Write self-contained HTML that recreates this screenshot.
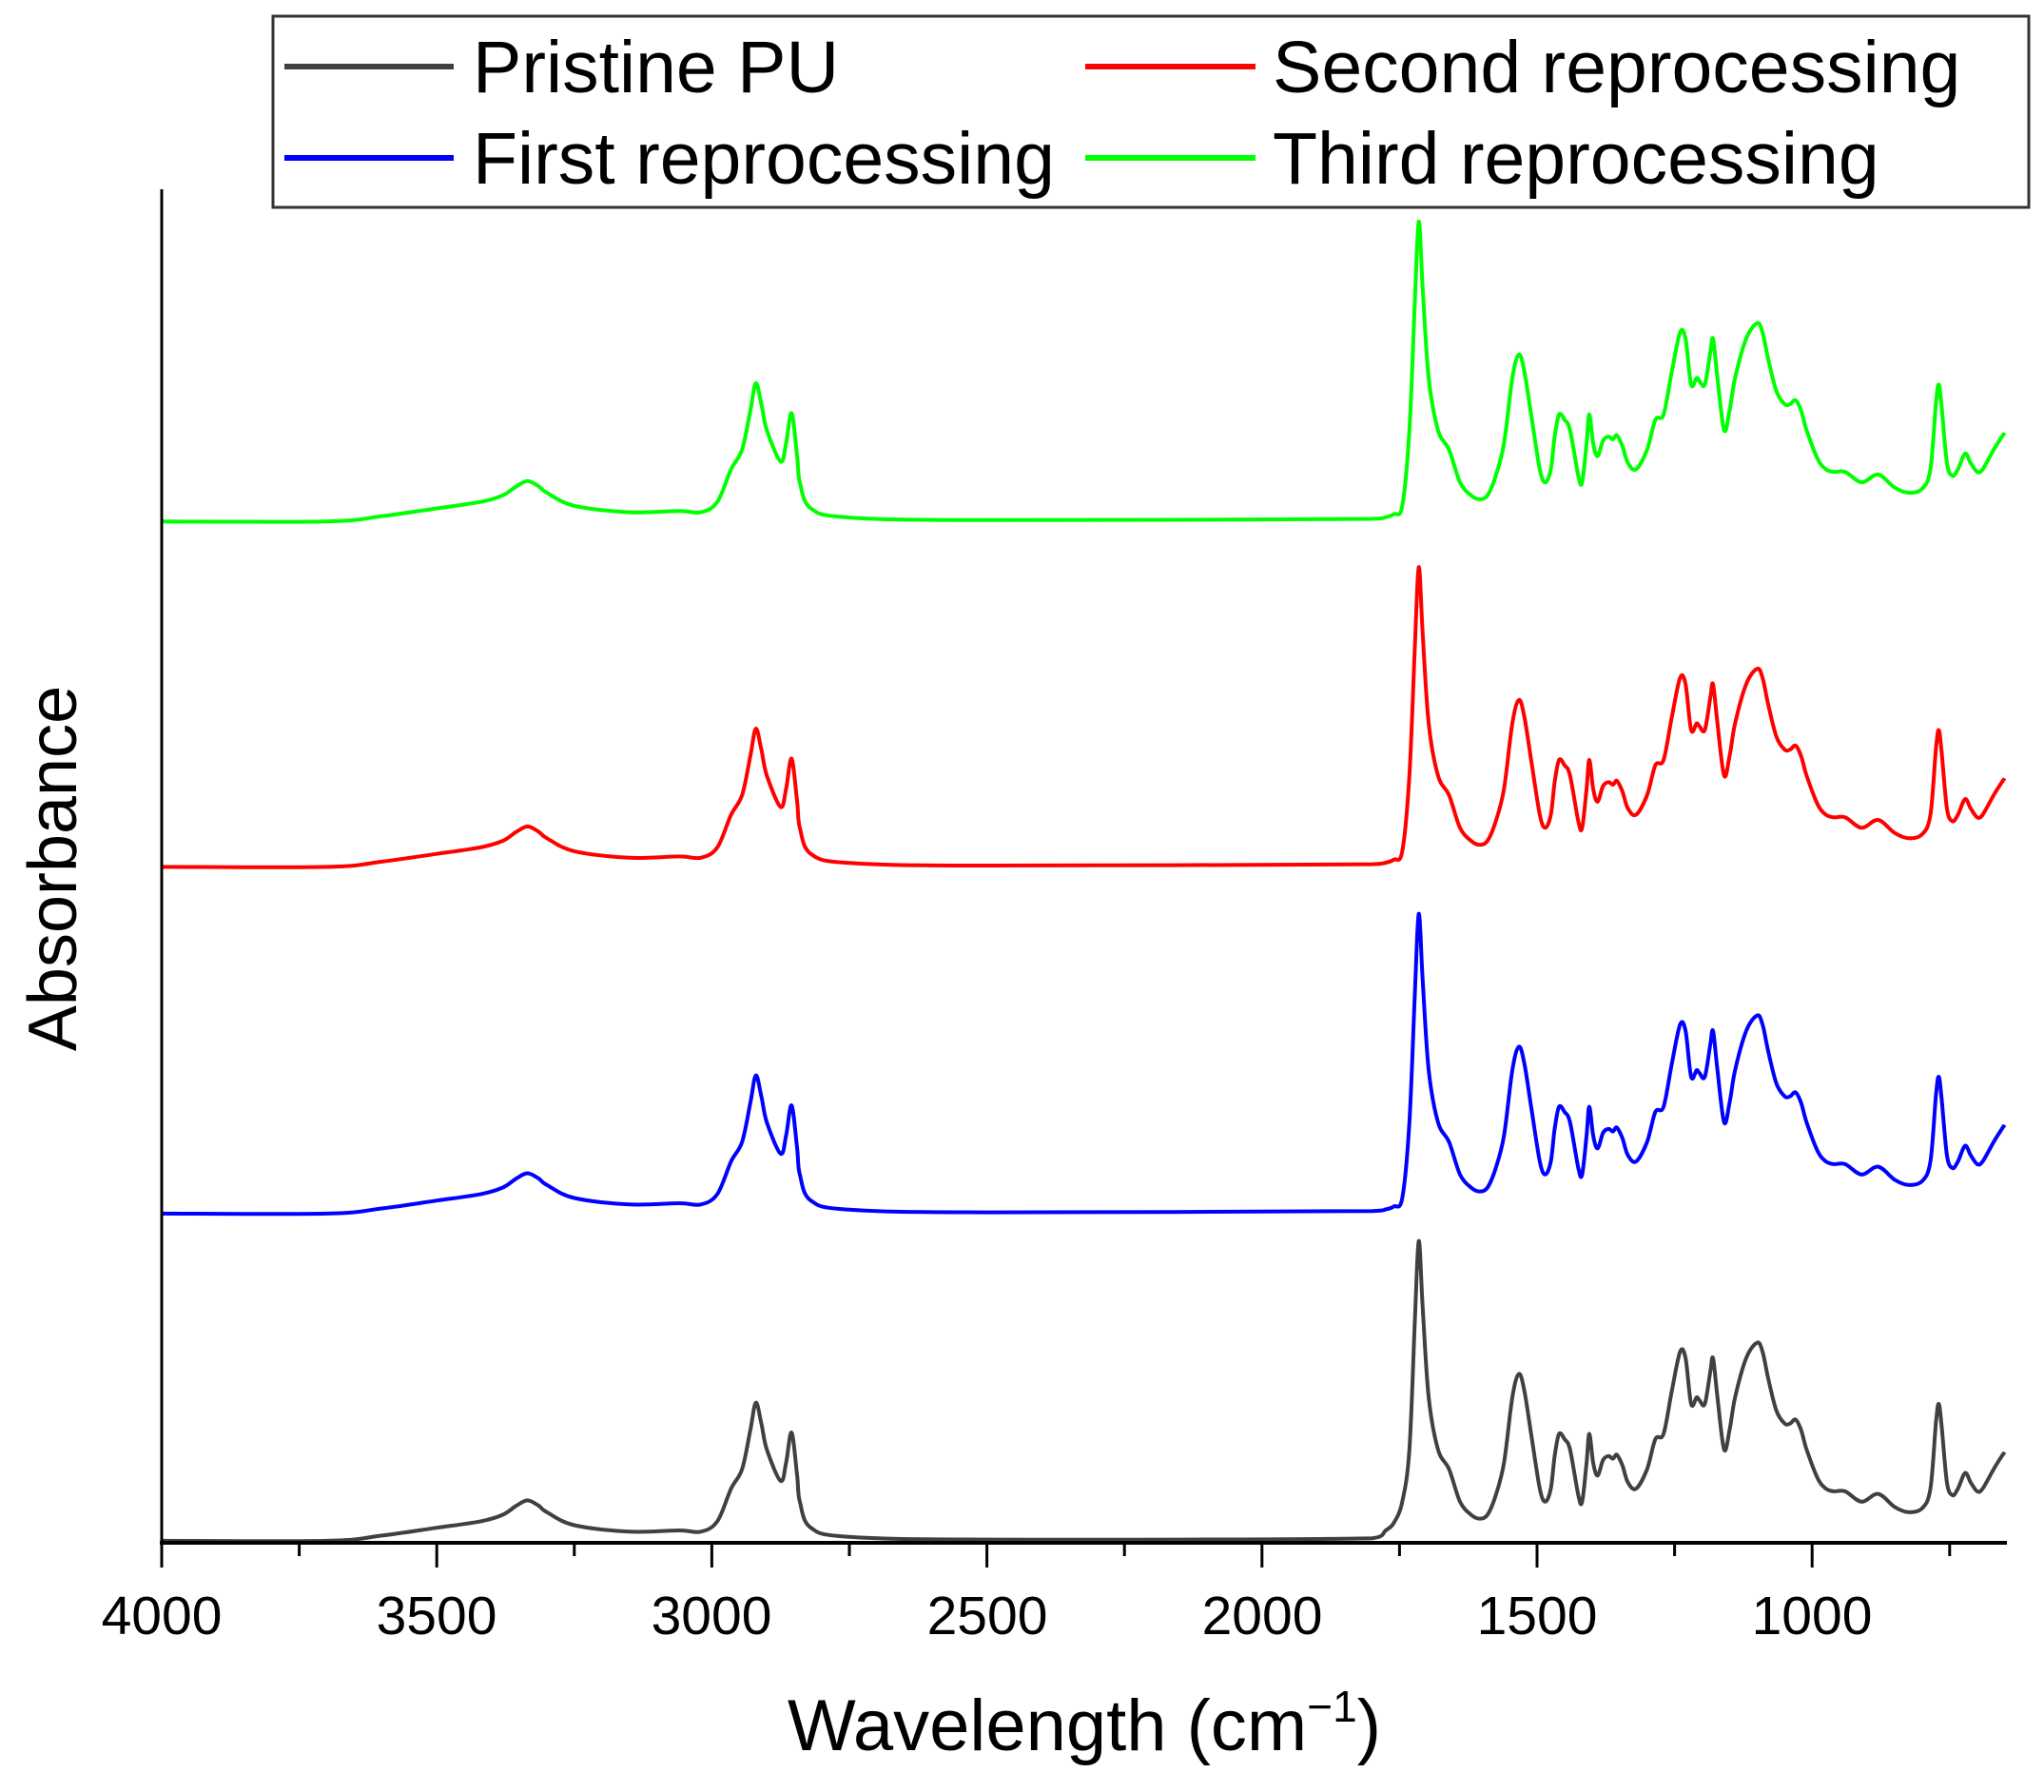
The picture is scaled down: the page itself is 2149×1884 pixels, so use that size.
<!DOCTYPE html>
<html><head><meta charset="utf-8"><style>
html,body{margin:0;padding:0;background:#fff}
svg{display:block}
text{font-family:"Liberation Sans",Arial,sans-serif;fill:#000}
</style></head><body>
<svg id="s" width="2149" height="1884" viewBox="0 0 2149 1884" xmlns="http://www.w3.org/2000/svg">
<rect width="2149" height="1884" fill="#fff"/>
<g id="curves" fill="none" stroke-width="4" stroke-linejoin="round"></g>
<line x1="170" y1="199" x2="170" y2="1623" stroke="#000" stroke-width="3"/>
<line x1="168" y1="1622" x2="2110" y2="1622" stroke="#000" stroke-width="4"/>
<g id="ticks" stroke="#000" stroke-width="3"></g>
<g font-size="57" text-anchor="middle">
<text x="170" y="1718">4000</text>
<text x="459" y="1718">3500</text>
<text x="748" y="1718">3000</text>
<text x="1038" y="1718">2500</text>
<text x="1327" y="1718">2000</text>
<text x="1616" y="1718">1500</text>
<text x="1905" y="1718">1000</text>
</g>
<text x="1140" y="1840" font-size="76" text-anchor="middle">Wavelength (cm<tspan font-size="46" dy="-30">−1</tspan><tspan dy="30">)</tspan></text>
<text transform="translate(80,913) rotate(-90)" font-size="72" text-anchor="middle">Absorbance</text>
<rect x="287" y="17" width="1846" height="201" fill="#fff" stroke="#333" stroke-width="3"/>
<line x1="299" y1="70" x2="477" y2="70" stroke="#404040" stroke-width="6"/>
<line x1="299" y1="166" x2="477" y2="166" stroke="#0000ff" stroke-width="6"/>
<line x1="1141" y1="70" x2="1320" y2="70" stroke="#ff0000" stroke-width="6"/>
<line x1="1141" y1="166" x2="1320" y2="166" stroke="#00ff00" stroke-width="6"/>
<g font-size="77">
<text x="497" y="97">Pristine PU</text>
<text x="497" y="193">First reprocessing</text>
<text x="1338" y="97">Second reprocessing</text>
<text x="1338" y="193">Third reprocessing</text>
</g>
</svg>
<script>
var S=1.3705;
function X(w){return 170+(4000-w)*0.5784;}
var pts=[[4000,0],[3700,0],[3600,4],[3500,10],[3420,15],[3380,20],[3355,27],[3335,31],[3315,27],[3300,22],[3250,12],[3150,7],[3060,8],[3020,7],[2990,15],[2965,40],[2945,55],[2930,85],[2920,106],[2910,90],[2900,70],[2875,46],[2865,60],[2855,83],[2845,50],[2840,30],[2820,10],[2750,3],[2500,1],[1800,2],[1775,8],[1760,14],[1745,30],[1732,70],[1722,170],[1715,230],[1708,180],[1697,110],[1680,70],[1660,55],[1640,30],[1620,20],[1605,17],[1590,20],[1575,35],[1560,60],[1545,110],[1533,128],[1523,115],[1510,80],[1495,40],[1485,30],[1475,40],[1468,65],[1460,82],[1450,78],[1440,70],[1425,35],[1418,30],[1410,60],[1405,82],[1398,60],[1390,50],[1380,62],[1370,65],[1362,63],[1355,66],[1345,58],[1335,45],[1320,40],[1300,55],[1285,78],[1270,82],[1255,115],[1240,145],[1230,140],[1220,105],[1210,110],[1205,108],[1195,105],[1185,130],[1180,140],[1172,110],[1160,70],[1150,85],[1140,110],[1120,140],[1100,152],[1090,145],[1080,125],[1065,100],[1050,90],[1040,90],[1030,93],[1020,85],[1010,70],[990,48],[975,40],[960,38],[940,38],[910,30],[880,36],[850,26],[825,22],[800,25],[785,40],[775,90],[770,105],[765,90],[755,45],[745,35],[735,40],[722,52],[712,45],[700,38],[690,40],[670,55],[655,65],[650,68]];
var series=[[1182,"#404040"],[931,"#0000ff"],[665,"#ff0000"],[400,"#00ff00"]];
var g=document.getElementById("curves"),ns="http://www.w3.org/2000/svg";
series.forEach(function(s){
 var P=pts.map(function(p){var off=p[1];if(s[0]!==1182&&p[0]<=1800&&p[0]>=1740)off=Math.max(2,off*0.4);
  return [X(p[0]),(s[0]-off)*S];});
 var d="M"+P[0][0].toFixed(1)+","+P[0][1].toFixed(1);
 for(var i=0;i<P.length-1;i++){
  var p0=P[Math.max(0,i-1)],p1=P[i],p2=P[i+1],p3=P[Math.min(P.length-1,i+2)];
  var c1x=p1[0]+(p2[0]-p0[0])/6,c1y=p1[1]+(p2[1]-p0[1])/6;
  var c2x=p2[0]-(p3[0]-p1[0])/6,c2y=p2[1]-(p3[1]-p1[1])/6;
  c1x=Math.min(Math.max(c1x,p1[0]),p2[0]);c2x=Math.min(Math.max(c2x,p1[0]),p2[0]);
  d+="C"+c1x.toFixed(1)+","+c1y.toFixed(1)+" "+c2x.toFixed(1)+","+c2y.toFixed(1)+" "+p2[0].toFixed(1)+","+p2[1].toFixed(1);
 }
 var e=document.createElementNS(ns,"path");e.setAttribute("d",d);e.setAttribute("stroke",s[1]);g.appendChild(e);
});
var t=document.getElementById("ticks");
for(var w=4000;w>=650;w-=250){var e=document.createElementNS(ns,"line");var x=X(w);
 e.setAttribute("x1",x);e.setAttribute("x2",x);e.setAttribute("y1",1622);e.setAttribute("y2",w%500==0?1648:1636);t.appendChild(e);}
</script>
</body></html>
